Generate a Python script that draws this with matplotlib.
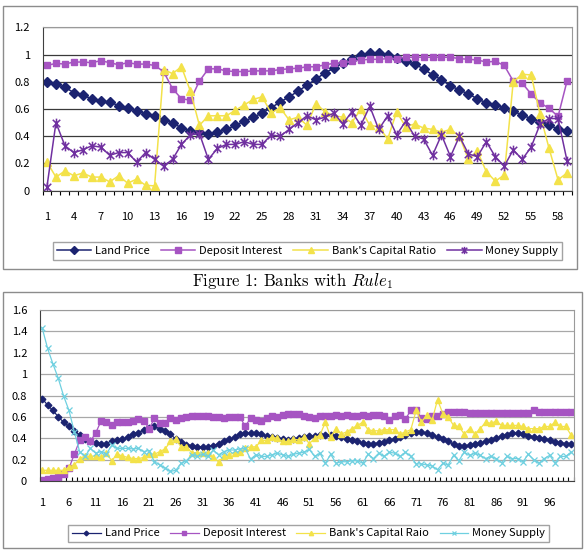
import numpy as np
import matplotlib
matplotlib.use('Agg')
import matplotlib.pyplot as plt
from matplotlib.path import Path
from matplotlib.patches import Rectangle

plt.rcParams['font.family'] = ['Noto Sans CJK JP', 'DejaVu Sans']
plt.rcParams['mathtext.fontset'] = 'cm'

# ---- Figure 1 data (59 periods) ----
land1 = [0.80, 0.78, 0.76, 0.72, 0.70, 0.675, 0.66, 0.65, 0.625, 0.605,
         0.585, 0.565, 0.545, 0.52, 0.50, 0.46, 0.44, 0.43, 0.42, 0.43,
         0.45, 0.48, 0.51, 0.54, 0.57, 0.61, 0.65, 0.69, 0.73, 0.775,
         0.82, 0.865, 0.90, 0.935, 0.965, 1.00, 1.01, 1.01, 1.00, 0.975,
         0.95, 0.93, 0.895, 0.85, 0.815, 0.77, 0.74, 0.71, 0.675, 0.645,
         0.63, 0.61, 0.585, 0.555, 0.53, 0.505, 0.48, 0.455, 0.44]
deposit1 = [0.92, 0.935, 0.93, 0.945, 0.945, 0.94, 0.955, 0.94, 0.925, 0.94,
            0.93, 0.93, 0.92, 0.875, 0.75, 0.675, 0.665, 0.805, 0.895, 0.895,
            0.88, 0.875, 0.875, 0.88, 0.88, 0.88, 0.89, 0.895, 0.90, 0.91,
            0.91, 0.925, 0.935, 0.94, 0.95, 0.96, 0.965, 0.965, 0.97, 0.97,
            0.98, 0.98, 0.98, 0.98, 0.98, 0.98, 0.97, 0.965, 0.96, 0.945,
            0.95, 0.92, 0.805, 0.79, 0.71, 0.645, 0.605, 0.545, 0.805]
capital1 = [0.21, 0.10, 0.145, 0.11, 0.13, 0.10, 0.10, 0.065, 0.11, 0.055,
            0.085, 0.04, 0.035, 0.89, 0.86, 0.91, 0.73, 0.48, 0.55, 0.55,
            0.55, 0.59, 0.63, 0.67, 0.69, 0.57, 0.61, 0.52, 0.54, 0.48,
            0.64, 0.58, 0.55, 0.54, 0.50, 0.60, 0.48, 0.47, 0.38, 0.58,
            0.47, 0.49, 0.46, 0.45, 0.43, 0.45, 0.40, 0.23, 0.29, 0.14,
            0.07, 0.115, 0.80, 0.855, 0.85, 0.56, 0.31, 0.08, 0.13]
money1 = [0.03, 0.50, 0.33, 0.28, 0.30, 0.33, 0.32, 0.26, 0.28, 0.28,
          0.21, 0.28, 0.23, 0.18, 0.23, 0.34, 0.41, 0.42, 0.23, 0.31,
          0.34, 0.34, 0.36, 0.34, 0.34, 0.41, 0.40, 0.45, 0.50, 0.55,
          0.52, 0.54, 0.57, 0.49, 0.58, 0.48, 0.62, 0.45, 0.55, 0.41,
          0.51, 0.40, 0.38, 0.26, 0.41, 0.25, 0.40, 0.27, 0.25, 0.36,
          0.25, 0.18, 0.30, 0.23, 0.32, 0.49, 0.53, 0.53, 0.22]

# ---- Figure 2 data (100 periods) ----
land2 = [0.77, 0.71, 0.66, 0.60, 0.55, 0.51, 0.47, 0.43, 0.39, 0.37,
         0.36, 0.35, 0.35, 0.37, 0.38, 0.39, 0.41, 0.44, 0.45, 0.48,
         0.50, 0.51, 0.49, 0.47, 0.44, 0.39, 0.365, 0.34, 0.33, 0.32,
         0.32, 0.32, 0.33, 0.35, 0.37, 0.39, 0.41, 0.44, 0.45, 0.45,
         0.445, 0.44, 0.42, 0.41, 0.40, 0.39, 0.385, 0.39, 0.40, 0.41,
         0.42, 0.42, 0.43, 0.43, 0.43, 0.42, 0.41, 0.39, 0.38, 0.37,
         0.355, 0.35, 0.35, 0.355, 0.365, 0.38, 0.39, 0.41, 0.43, 0.445,
         0.46, 0.455, 0.445, 0.43, 0.41, 0.39, 0.37, 0.345, 0.33, 0.33,
         0.335, 0.345, 0.355, 0.37, 0.38, 0.40, 0.42, 0.435, 0.445, 0.445,
         0.44, 0.425, 0.415, 0.405, 0.39, 0.38, 0.365, 0.355, 0.35, 0.345]
deposit2 = [0.01, 0.02, 0.025, 0.04, 0.07, 0.12, 0.25, 0.38, 0.41, 0.37,
            0.45, 0.56, 0.55, 0.52, 0.555, 0.555, 0.555, 0.565, 0.58, 0.565,
            0.49, 0.585, 0.545, 0.545, 0.585, 0.57, 0.585, 0.595, 0.61, 0.61,
            0.61, 0.61, 0.60, 0.595, 0.585, 0.595, 0.595, 0.595, 0.515, 0.585,
            0.575, 0.565, 0.585, 0.61, 0.60, 0.62, 0.63, 0.63, 0.63, 0.61,
            0.60, 0.59, 0.61, 0.61, 0.61, 0.62, 0.61, 0.62, 0.61, 0.61,
            0.62, 0.61, 0.62, 0.62, 0.61, 0.57, 0.61, 0.62, 0.58, 0.66,
            0.66, 0.59, 0.58, 0.61, 0.61, 0.63, 0.65, 0.65, 0.65, 0.645,
            0.64, 0.635, 0.64, 0.64, 0.64, 0.64, 0.64, 0.64, 0.64, 0.635,
            0.635, 0.64, 0.66, 0.645, 0.645, 0.645, 0.65, 0.65, 0.65, 0.65]
capital2 = [0.10, 0.10, 0.10, 0.10, 0.10, 0.13, 0.15, 0.21, 0.235, 0.23,
            0.235, 0.22, 0.26, 0.19, 0.25, 0.235, 0.22, 0.21, 0.21, 0.22,
            0.25, 0.25, 0.275, 0.30, 0.37, 0.39, 0.32, 0.32, 0.265, 0.265,
            0.26, 0.265, 0.22, 0.18, 0.23, 0.245, 0.265, 0.275, 0.305, 0.32,
            0.32, 0.38, 0.38, 0.41, 0.40, 0.37, 0.37, 0.39, 0.385, 0.41,
            0.35, 0.40, 0.43, 0.55, 0.41, 0.49, 0.44, 0.46, 0.49, 0.52,
            0.55, 0.48, 0.47, 0.47, 0.48, 0.48, 0.48, 0.44, 0.46, 0.48,
            0.66, 0.55, 0.62, 0.57, 0.76, 0.63, 0.60, 0.52, 0.51, 0.44,
            0.49, 0.44, 0.49, 0.55, 0.54, 0.56, 0.52, 0.52, 0.52, 0.52,
            0.51, 0.49, 0.49, 0.49, 0.51, 0.51, 0.55, 0.51, 0.51, 0.43]
money2 = [1.43, 1.24, 1.095, 0.96, 0.795, 0.66, 0.46, 0.275, 0.23, 0.305,
          0.26, 0.275, 0.25, 0.335, 0.305, 0.305, 0.305, 0.30, 0.305, 0.275,
          0.285, 0.18, 0.15, 0.12, 0.09, 0.10, 0.165, 0.19, 0.245, 0.23,
          0.25, 0.23, 0.29, 0.245, 0.275, 0.29, 0.29, 0.30, 0.305, 0.205,
          0.245, 0.23, 0.23, 0.245, 0.26, 0.245, 0.23, 0.25, 0.26, 0.27,
          0.295, 0.23, 0.26, 0.166, 0.25, 0.166, 0.18, 0.18, 0.19, 0.19,
          0.166, 0.25, 0.21, 0.26, 0.23, 0.27, 0.26, 0.23, 0.27, 0.23,
          0.16, 0.16, 0.15, 0.14, 0.105, 0.166, 0.15, 0.24, 0.19, 0.27,
          0.24, 0.26, 0.24, 0.21, 0.23, 0.21, 0.17, 0.23, 0.21, 0.21,
          0.18, 0.25, 0.20, 0.166, 0.21, 0.24, 0.17, 0.23, 0.23, 0.27]

names1 = ['Land Price', 'Deposit Interest', "Bank's Capital Ratio", 'Money Supply']
names2 = ['Land Price', 'Deposit Interest', "Bank's Capital Raio", 'Money Supply']

W, H = 585, 555
fig = plt.figure(figsize=(W / 100, H / 100), dpi=100)

# Excel style "star" marker: x with a vertical bar
star = Path([(-1, -1), (1, 1), (-1, 1), (1, -1), (0, -1.3), (0, 1.3)],
            [Path.MOVETO, Path.LINETO, Path.MOVETO, Path.LINETO, Path.MOVETO, Path.LINETO])


def box(x0, y0, x1, y1):
    return [x0 / W, 1 - y1 / H, (x1 - x0) / W, (y1 - y0) / H]


def frame(x0, y0, x1, y1):
    fig.patches.append(Rectangle((x0 / W, 1 - y1 / H), (x1 - x0) / W, (y1 - y0) / H,
                                 transform=fig.transFigure, fill=False,
                                 edgecolor='#8c8c8c', linewidth=1.0))


def style_axes(ax, n, ymax, ystep, xstep, gridcol, tickdir, xpad):
    ax.set_xlim(0.5, n + 0.5)
    ax.set_ylim(0, ymax)
    yt = np.round(np.arange(0, ymax + 1e-9, ystep), 1)
    ax.set_yticks(yt)
    ax.set_yticklabels(['%g' % v for v in yt])
    xt = np.arange(1, n + 1, xstep)
    ax.set_xticks(xt)
    ax.set_xticklabels([str(v) for v in xt])
    ax.set_xticks(np.arange(0.5, n + 1, 1), minor=True)
    ax.tick_params(axis='x', which='major', length=0, pad=xpad, labelsize=8)
    ax.tick_params(axis='x', which='minor', length=3, direction=tickdir, width=0.8)
    ax.tick_params(axis='y', length=0, pad=9, labelsize=8)
    ax.grid(axis='y', color=gridcol, linewidth=0.9)
    ax.set_axisbelow(True)
    for s in ['top', 'right']:
        ax.spines[s].set_color('#9a9a9a')
    for s in ['left', 'bottom']:
        ax.spines[s].set_color('#404040')


# ---------------- Chart 1 ----------------
frame(3, 6, 577, 269)
ax1 = fig.add_axes(box(42.5, 27.3, 571.5, 190.7))
x1 = np.arange(1, len(land1) + 1)
ax1.plot(x1, land1, color='#1b2370', marker='D', markersize=5, lw=1.1, label=names1[0])
ax1.plot(x1, deposit1, color='#a654c2', marker='s', markersize=5, lw=1.1, label=names1[1])
ax1.plot(x1, capital1, color='#f3e24a', marker='^', markersize=6, lw=1.1, label=names1[2])
ax1.plot(x1, money1, color='#7030a0', marker=star, markersize=7, lw=1.1,
         markeredgewidth=1.1, fillstyle='none', label=names1[3])
style_axes(ax1, 59, 1.2, 0.2, 3, '#3a3a3a', 'out', 15)

leg1 = fig.legend(loc='center', bbox_to_anchor=((54 + 561) / 2 / W, 1 - 251 / H),
                  ncol=4, fontsize=8, frameon=True, fancybox=False,
                  handlelength=3.1, handletextpad=0.35, columnspacing=1.0,
                  borderpad=0.35, markerscale=0.75)
leg1.get_frame().set_edgecolor('#8c8c8c')
leg1.get_frame().set_linewidth(1.0)

# caption in Computer Modern (cmr10 ships with matplotlib)
fig.text(292 / W, 1 - 281 / H, r'Figure 1: Banks with $Rule_1$',
         ha='center', va='center', fontsize=12, family='cmr10')

# ---------------- Chart 2 ----------------
frame(3, 292, 582, 548)
ax2 = fig.add_axes(box(39.6, 310, 573.7, 481))
x2 = np.arange(1, len(land2) + 1)
ax2.plot(x2, land2, color='#1b2370', marker='D', markersize=3.4, lw=0.9, label=names2[0])
ax2.plot(x2, deposit2, color='#a654c2', marker='s', markersize=4.0, lw=0.9, label=names2[1])
ax2.plot(x2, capital2, color='#f3e24a', marker='^', markersize=4.4, lw=0.9, label=names2[2])
ax2.plot(x2, money2, color='#6fd0e0', marker='x', markersize=4.0, lw=0.9,
         markeredgewidth=0.9, label=names2[3])
style_axes(ax2, 100, 1.6, 0.2, 5, '#a8a8a8', 'in', 12)

h2, l2 = ax2.get_legend_handles_labels()
leg2 = fig.legend(h2, l2, loc='center', bbox_to_anchor=((68 + 549) / 2 / W, 1 - 533.5 / H),
                  ncol=4, fontsize=8, frameon=True, fancybox=False,
                  handlelength=2.6, handletextpad=0.35, columnspacing=0.95,
                  borderpad=0.35, markerscale=0.7)
leg2.get_frame().set_edgecolor('#8c8c8c')
leg2.get_frame().set_linewidth(1.0)

fig.savefig('out.png', dpi=100)
